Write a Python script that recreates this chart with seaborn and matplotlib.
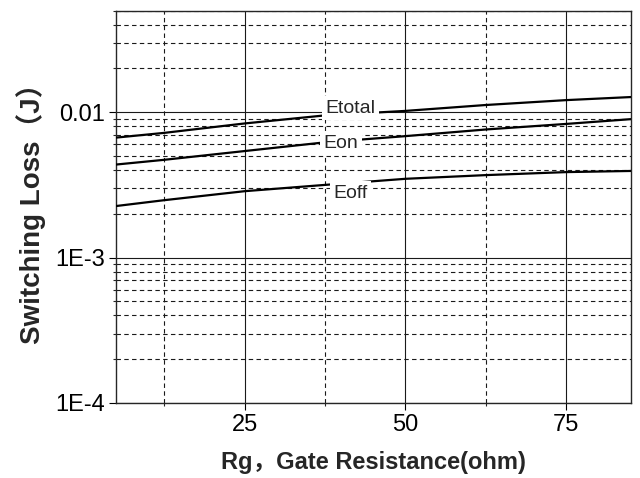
import numpy as np
import pandas as pd
import matplotlib
matplotlib.use("Agg")
import matplotlib.pyplot as plt
from matplotlib.ticker import LogLocator, FixedLocator, NullFormatter
import seaborn as sns

# values
rg = [5, 12.5, 25, 37.5, 50, 62.5, 75, 85]
e_total = [0.00668, 0.0072, 0.00836, 0.0095, 0.0102, 0.0112, 0.0121, 0.0127]
e_on = [0.00436, 0.0047, 0.0054, 0.0062, 0.00684, 0.0076, 0.0083, 0.00895]
e_off = [0.00226, 0.00248, 0.00286, 0.00316, 0.00348, 0.00369, 0.00387, 0.00394]
curve_names = ["Etotal", "Eon", "Eoff"]
label_x = [41.5, 40.0, 41.5]
label_y = [0.0106, 0.0061, 0.00277]
ytick_vals = [1e-4, 1e-3, 1e-2]
ytick_labels = ["1E-4", "1E-3", "0.01"]
xtick_vals = [25, 50, 75]

sns.set_theme(style="ticks")
plt.rcParams['font.family'] = ['Liberation Sans', 'Noto Sans CJK SC', 'DejaVu Sans']

df = pd.DataFrame({
    "Rg": rg * 3,
    "Loss": e_total + e_on + e_off,
    "Curve": np.repeat(curve_names, len(rg)),
})

fig, ax = plt.subplots(figsize=(6.4, 4.78), dpi=100)
fig.subplots_adjust(left=0.181, right=0.9855, bottom=0.157, top=0.978)

sns.lineplot(data=df, x="Rg", y="Loss", hue="Curve",
             palette={n: "black" for n in curve_names},
             linewidth=1.6, legend=False, ax=ax, zorder=3)

ax.set_yscale("log")
ax.set_xlim(5, 85)
ax.set_ylim(1e-4, 0.05)
ax.set_xticks(xtick_vals)
ax.set_xticklabels([str(v) for v in xtick_vals])
ax.xaxis.set_minor_locator(FixedLocator([12.5, 37.5, 62.5]))
ax.set_yticks(ytick_vals)
ax.set_yticklabels(ytick_labels)
ax.yaxis.set_minor_locator(LogLocator(base=10, subs=np.arange(2, 10)))
ax.yaxis.set_minor_formatter(NullFormatter())

ax.grid(which="major", color="0.1", linestyle="-", linewidth=0.8)
ax.grid(which="minor", color="0.1", linestyle=(0, (4, 3)), linewidth=0.8)
ax.set_axisbelow(True)

ax.tick_params(which="major", direction="out", length=5, width=0.8,
               labelsize=17, colors="black", pad=3)
ax.tick_params(which="minor", direction="out", length=2.5, width=0.8)
for s in ax.spines.values():
    s.set_color("0.15")
    s.set_linewidth(1.0)

for name, lx, ly in zip(curve_names, label_x, label_y):
    ax.text(lx, ly, name, fontsize=14, ha="center", va="center", zorder=5,
            bbox=dict(facecolor="white", edgecolor="none", pad=2.5))

ax.set_xlabel("Rg，Gate Resistance(ohm)", fontsize=17, fontweight="bold")
ax.set_ylabel("Switching Loss（J）", fontsize=20, fontweight="bold")
ax.xaxis.set_label_coords(0.5, -0.123)
ax.yaxis.set_label_coords(-0.135, 0.5)

fig.savefig("out.png", dpi=100)
